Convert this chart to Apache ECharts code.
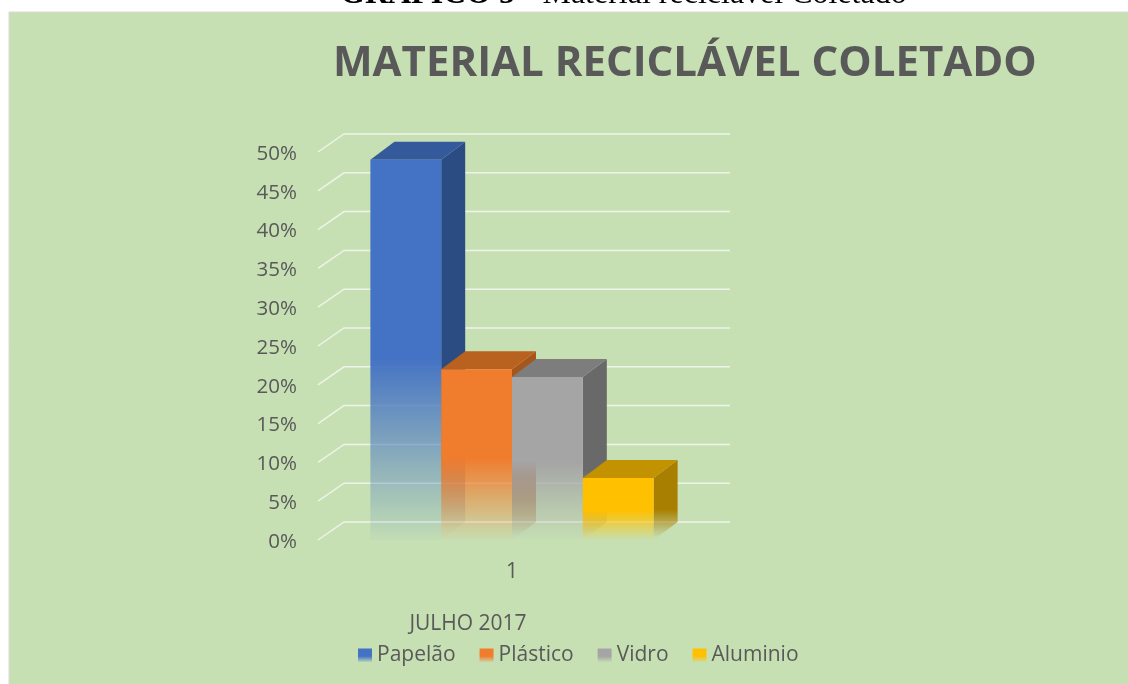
<!DOCTYPE html>
<html>
<head>
<meta charset="utf-8">
<title>Material reciclável Coletado</title>
<script src="https://cdn.jsdelivr.net/npm/echarts@6/dist/echarts.min.js"></script>
<style>
  html, body { margin: 0; padding: 0; background: #fff; overflow: hidden; }
  #chart { width: 1128px; height: 684px; }
</style>
</head>
<body>
<div id="chart"></div>
<script>
const categories = ['1']
const seriesNames = ['Papelão', 'Plástico', 'Vidro', 'Aluminio']
const seriesValues = [49, 22, 21, 8]
const yTicks = [0, 5, 10, 15, 20, 25, 30, 35, 40, 45, 50]

const FRONT = ['#4472c4', '#f07c2e', '#a5a5a5', '#ffc000']
const TOP = ['#345a9c', '#b9611f', '#7d7d7d', '#c29200']
const SIDE = ['#2b4c82', '#a4561b', '#696969', '#a87f00']
const FONT = '"Open Sans", "Noto Sans", sans-serif'
const TEXT_COLOR = '#595959'
const DEPTH_X = 24
const DEPTH_Y = 18
const BAR_SHARE = 0.1825

// bars are solid down to about half their height, then fade out
function fade(color, start, end) {
  return new echarts.graphic.LinearGradient(0, 0, 0, 1, [
    { offset: 0, color: color },
    { offset: start, color: color },
    { offset: end, color: echarts.color.modifyAlpha(color, 0.03) },
    { offset: 1, color: echarts.color.modifyAlpha(color, 0) }
  ])
}

function renderWall(params, api) {
  const p = api.coord([0, api.value(0)])
  const band = api.size([1, 0])[0]
  const left = p[0] - band / 2
  const right = p[0] + band / 2
  return {
    type: 'polyline',
    silent: true,
    shape: { points: [[left, p[1]], [left + 26, p[1] - 18], [right + 24, p[1] - 18]] },
    style: { fill: null, stroke: '#eef3ea', lineWidth: 1.5 }
  }
}

function renderBar(index) {
  return function (params, api) {
    const base = api.coord([0, 0])
    const top = api.coord([0, api.value(0)])
    const band = api.size([1, 0])[0]
    const w = band * BAR_SHARE
    const x0 = base[0] + (index - 2) * w
    const x1 = x0 + w
    const y0 = top[1]
    const y1 = base[1]
    return {
      type: 'group',
      silent: true,
      children: [
        {
          type: 'polygon',
          shape: { points: [[x1, y0], [x1 + DEPTH_X, y0 - DEPTH_Y], [x1 + DEPTH_X, y1 - DEPTH_Y], [x1, y1]] },
          style: { fill: fade(SIDE[index], 0.62, 0.97) }
        },
        {
          type: 'polygon',
          shape: { points: [[x0, y0], [x0 + DEPTH_X, y0 - DEPTH_Y], [x1 + DEPTH_X, y0 - DEPTH_Y], [x1, y0]] },
          style: { fill: TOP[index] }
        },
        {
          type: 'rect',
          shape: { x: x0, y: y0, width: w, height: y1 - y0 },
          style: { fill: fade(FRONT[index], 0.52, 1) }
        }
      ]
    }
  }
}

const chart = echarts.init(document.getElementById('chart'))

chart.setOption({
  animation: false,
  backgroundColor: '#fff',
  textStyle: { fontFamily: FONT },
  graphic: [
    {
      type: 'text',
      left: 340,
      top: -21,
      z: 0,
      style: {
        text: '{b|GRÁFICO 5} {n|– Material reciclável Coletado}',
        rich: {
          b: { fontFamily: '"Liberation Serif"', fontWeight: 'bold', fontSize: 32, fill: '#000' },
          n: { fontFamily: '"Liberation Serif"', fontSize: 32, fill: '#000' }
        }
      }
    },
    {
      type: 'rect',
      z: -1,
      shape: { x: 9, y: 12, width: 1125, height: 680 },
      style: { fill: '#c6e0b4', stroke: '#d9d9d9', lineWidth: 1 }
    }
  ],
  title: {
    text: 'MATERIAL RECICLÁVEL COLETADO',
    left: 328,
    top: 38,
    textStyle: { fontFamily: FONT, fontSize: 42, fontWeight: 'bold', color: TEXT_COLOR }
  },
  legend: {
    left: 353,
    top: 640,
    itemWidth: 14,
    itemHeight: 14,
    itemGap: 24,
    textStyle: { fontFamily: FONT, fontSize: 21, color: TEXT_COLOR },
    data: seriesNames.map((name, i) => ({
      name: name,
      icon: 'rect',
      itemStyle: { color: fade(FRONT[i], 0.55, 1) }
    }))
  },
  grid: { left: 318, top: 152, width: 388, height: 388 },
  xAxis: {
    type: 'category',
    data: categories,
    axisLine: { show: false },
    axisTick: { show: false },
    axisLabel: { margin: 22, fontSize: 21, color: TEXT_COLOR },
    name: 'JULHO 2017',
    nameLocation: 'middle',
    nameGap: 74,
    nameTextStyle: { fontSize: 21, color: TEXT_COLOR, padding: [0, 88, 0, 0] }
  },
  yAxis: {
    type: 'value',
    min: 0,
    max: 50,
    interval: 5,
    axisLine: { show: false },
    axisTick: { show: false },
    splitLine: { show: false },
    axisLabel: {
      formatter: '{a|{value}%}',
      margin: 21,
      rich: { a: { fontFamily: FONT, fontSize: 20.5, color: TEXT_COLOR, padding: [4, 0, 0, 0] } }
    }
  },
  series: [
    {
      type: 'custom',
      silent: true,
      clip: false,
      renderItem: renderWall,
      data: yTicks.map((t) => [t])
    }
  ].concat(seriesNames.map((name, i) => ({
    type: 'custom',
    name: name,
    silent: true,
    clip: false,
    renderItem: renderBar(i),
    itemStyle: { color: FRONT[i] },
    data: [[seriesValues[i]]]
  })))
})
</script>
</body>
</html>
